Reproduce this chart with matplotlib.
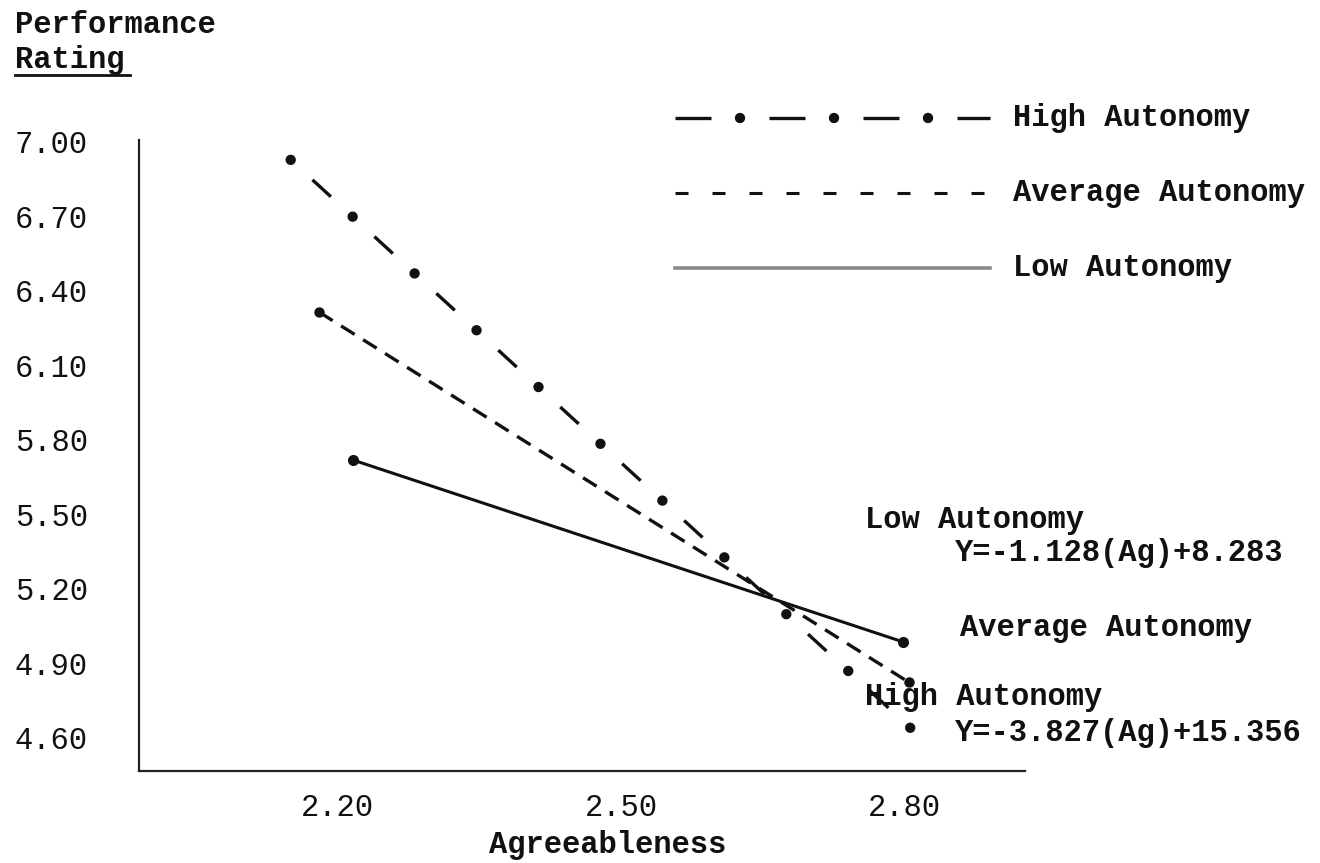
import numpy as np
import matplotlib
matplotlib.use("Agg")
import matplotlib.pyplot as plt
from matplotlib.lines import Line2D

plt.rcParams['lines.scale_dashes'] = False
plt.rcParams['font.family'] = ['Liberation Mono', 'DejaVu Sans Mono']

# ---- data ----
agree_high = [2.151, 2.806]
perf_high = [6.928, 4.640]
agree_avg = [2.181, 2.804]
perf_avg = [6.315, 4.825]
agree_low = [2.217, 2.798]
perf_low = [5.719, 4.987]

x_ticks = [2.20, 2.50, 2.80]
x_ticklabels = ["2.20", "2.50", "2.80"]
y_ticks = [7.00, 6.70, 6.40, 6.10, 5.80, 5.50, 5.20, 4.90, 4.60]
y_ticklabels = ["7.00", "6.70", "6.40", "6.10", "5.80", "5.50", "5.20", "4.90", "4.60"]

series_names = ["High Autonomy", "Average Autonomy", "Low Autonomy"]
eq_low = "Y=-1.128(Ag)+8.283"
eq_high = "Y=-3.827(Ag)+15.356"

W, H, DPI = 1320, 863, 100
FS = 22
INK = '#111111'

fig = plt.figure(figsize=(W / DPI, H / DPI), dpi=DPI)
fig.patch.set_facecolor('white')


def fx(px):
    return px / W


def fy(py):
    return 1 - py / H


ax = fig.add_axes([fx(139), fy(770.5), fx(1025) - fx(139), fy(140) - fy(770.5)])
ax.set_xlim(1.9907, 2.927)
ax.set_ylim(4.469, 7.008)
for s in ['top', 'right']:
    ax.spines[s].set_visible(False)
for s in ['left', 'bottom']:
    ax.spines[s].set_color('#222222')
    ax.spines[s].set_linewidth(1.6)

ax.set_xticks(x_ticks)
ax.set_xticklabels(x_ticklabels, fontsize=FS, color=INK)
ax.set_yticks(y_ticks)
ax.set_yticklabels(y_ticklabels, fontsize=FS, color=INK, ha='left')
ax.tick_params(axis='y', length=0, pad=(139 - 15) * 0.72)
ax.tick_params(axis='x', length=0, pad=16)

px2pt = 72.0 / DPI

# ---- High autonomy: dash + dot pattern along the line ----
p = ax.transData.transform(np.column_stack([agree_high, perf_high]))
L = np.hypot(*(p[1] - p[0])) * px2pt
n_per = 10
P = L / n_per * 0.9995
D = 18.0
ax.plot(agree_high, perf_high, color=INK, lw=2.4, solid_capstyle='butt',
        dash_capstyle='butt', linestyle=(D + (P - D) / 2, (D, P - D)))
ax.plot(agree_high, perf_high, color=INK, lw=7.5, dash_capstyle='round',
        linestyle=(0, (0.01, P - 0.01)))

# ---- Average autonomy: dashed ----
ax.plot(agree_avg, perf_avg, color=INK, lw=2.4, dash_capstyle='butt',
        linestyle=(0, (11.5, 7.2)), marker='o', markersize=6.5,
        markerfacecolor=INK, markeredgecolor=INK)

# ---- Low autonomy: solid ----
ax.plot(agree_low, perf_low, color=INK, lw=2.2, marker='o', markersize=7,
        markerfacecolor=INK, markeredgecolor=INK)

# ---- legend drawn in figure coords ----
lx0, lx1 = fx(675), fx(990)
yh, ya, yl = fy(118), fy(193), fy(268)
Pl, Dl, gl = 94 * px2pt, 36 * px2pt, 29 * px2pt
fig.add_artist(Line2D([lx0, lx1], [yh, yh], color=INK, lw=2.4,
                      dash_capstyle='butt', linestyle=(0, (Dl, Pl - Dl))))
fig.add_artist(Line2D([lx0, lx1], [yh, yh], color=INK, lw=7.5,
                      dash_capstyle='round',
                      linestyle=(Pl - (Dl + gl), (0.01, Pl - 0.01))))
fig.add_artist(Line2D([lx0, lx1], [ya, ya], color=INK, lw=2.2,
                      dash_capstyle='butt', linestyle=(0, (13 * px2pt, 24 * px2pt))))
fig.add_artist(Line2D([lx0, lx1], [yl, yl], color='#8a8a8a', lw=2.6))

tkw = dict(fontsize=FS, fontweight='bold', color=INK, ha='left', va='center')
fig.text(fx(1013), yh, series_names[0], **tkw)
fig.text(fx(1013), ya, series_names[1], **tkw)
fig.text(fx(1013), yl, series_names[2], **tkw)

# ---- annotations at right ----
fig.text(fx(865), fy(520), series_names[2], **tkw)
fig.text(fx(955), fy(553), eq_low, **tkw)
fig.text(fx(960), fy(628), series_names[1], **tkw)
fig.text(fx(865), fy(697), series_names[0], **tkw)
fig.text(fx(955), fy(733), eq_high, **tkw)

# ---- axis titles ----
fig.text(fx(15), fy(25), "Performance", **tkw)
fig.text(fx(15), fy(60), "Rating", **tkw)
fig.add_artist(Line2D([fx(15), fx(130)], [fy(75), fy(75)], color=INK, lw=2.0))
fig.text(fx(608), fy(845), "Agreeableness", fontsize=FS, fontweight='bold',
         color=INK, ha='center', va='center')

fig.savefig("out.png", dpi=DPI, facecolor='white')
